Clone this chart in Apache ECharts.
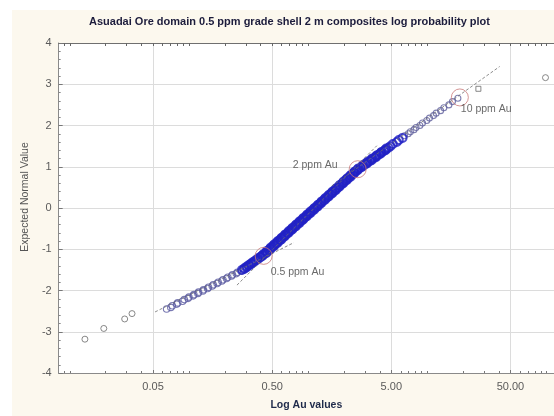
<!DOCTYPE html>
<html><head><meta charset="utf-8">
<script src="https://cdn.jsdelivr.net/npm/echarts@6/dist/echarts.min.js"></script>
<style>
html,body{margin:0;padding:0;background:#fff;width:554px;height:416px;overflow:hidden}
#c{position:absolute;left:12px;top:10px;width:542px;height:406px}
</style>
</head><body><div id="c"></div>
<script>
// ---------- text ----------
const titleText = 'Asuadai Ore domain 0.5 ppm grade shell 2 m composites log probability plot';
const xAxisTitle = 'Log Au values';
const yAxisTitle = 'Expected Normal Value';

// ---------- axes ----------
const xAxisMinAu = 0.00807;
const xAxisMaxAu = 116;
const xTickValues = [0.05, 0.5, 5, 50];
const xTickLabels = ['0.05', '0.50', '5.00', '50.00'];
const xMinorTickValues = [0.008, 0.009,
  0.01, 0.02, 0.03, 0.04, 0.05, 0.06, 0.07, 0.08, 0.09,
  0.1, 0.2, 0.3, 0.4, 0.5, 0.6, 0.7, 0.8, 0.9,
  1, 2, 3, 4, 5, 6, 7, 8, 9,
  10, 20, 30, 40, 50, 60, 70, 80, 90, 100];
const yMin = -4, yMax = 4, yInterval = 1;

// ---------- data: Au (ppm) vs expected normal value ----------
const lowerTailAu = [0.065, 0.0705, 0.0725, 0.079, 0.0805, 0.0885, 0.0915, 0.0985, 0.100, 0.1085,
  0.110, 0.119, 0.1205, 0.131, 0.1325, 0.1435, 0.146, 0.157, 0.160, 0.1725,
  0.176, 0.189, 0.193, 0.207, 0.212, 0.228, 0.232, 0.250, 0.255, 0.274];
const lowerTailZ = [-2.45, -2.41, -2.37, -2.33, -2.30, -2.26, -2.22, -2.19, -2.16, -2.13,
  -2.10, -2.07, -2.04, -2.01, -1.98, -1.95, -1.92, -1.89, -1.86, -1.83,
  -1.80, -1.77, -1.74, -1.71, -1.68, -1.65, -1.62, -1.59, -1.56, -1.53];

const coreAu = [0.279, 0.291, 0.292, 0.304, 0.306, 0.318, 0.319, 0.332, 0.334, 0.347,
  0.349, 0.363, 0.365, 0.379, 0.381, 0.396, 0.399, 0.414, 0.417, 0.440,
  0.448, 0.472, 0.480, 0.506, 0.515, 0.543, 0.552, 0.583, 0.593, 0.625,
  0.636, 0.671, 0.683, 0.719, 0.732, 0.772, 0.786, 0.827, 0.842, 0.888,
  0.905, 0.952, 0.971, 1.022, 1.041, 1.095, 1.118, 1.176, 1.198, 1.26,
  1.286, 1.354, 1.379, 1.454, 1.481, 1.558, 1.587, 1.674, 1.704, 1.793,
  1.830, 1.926, 1.961, 2.063, 2.106, 2.216, 2.257, 2.375, 2.423, 2.550,
  2.603, 2.771, 2.848, 3.031, 3.116, 3.317, 3.408, 3.627, 3.728, 3.959,
  4.078, 4.331, 4.462, 4.739, 4.92, 5.15, 5.56, 5.78, 6.21];
const coreZ = [-1.50, -1.48, -1.46, -1.44, -1.42, -1.40, -1.38, -1.36, -1.34, -1.32,
  -1.30, -1.28, -1.26, -1.24, -1.22, -1.20, -1.18, -1.16, -1.14, -1.10,
  -1.06, -1.02, -0.98, -0.94, -0.90, -0.86, -0.82, -0.78, -0.74, -0.70,
  -0.66, -0.62, -0.58, -0.54, -0.50, -0.46, -0.42, -0.38, -0.34, -0.30,
  -0.26, -0.22, -0.18, -0.14, -0.10, -0.06, -0.02, 0.02, 0.06, 0.10,
  0.14, 0.18, 0.22, 0.26, 0.30, 0.34, 0.38, 0.42, 0.46, 0.50,
  0.54, 0.58, 0.62, 0.66, 0.70, 0.74, 0.78, 0.82, 0.86, 0.90,
  0.94, 0.98, 1.02, 1.06, 1.10, 1.14, 1.18, 1.22, 1.26, 1.30,
  1.34, 1.38, 1.42, 1.46, 1.50, 1.55, 1.60, 1.65, 1.70];

// additional samples packed inside the dense middle of the distribution
const coreFillAu = [0.422, 0.451, 0.452, 0.484, 0.486, 0.519, 0.521, 0.557, 0.559, 0.598,
  0.600, 0.641, 0.644, 0.688, 0.691, 0.738, 0.741, 0.792, 0.795, 0.850,
  0.853, 0.912, 0.915, 0.978, 0.982, 1.050, 1.054, 1.126, 1.131, 1.208,
  1.213, 1.296, 1.302, 1.391, 1.397, 1.492, 1.499, 1.601, 1.608, 1.718,
  1.725, 1.843, 1.851, 1.978, 1.986, 2.122, 2.131, 2.277, 2.287, 2.443,
  2.453, 2.621, 2.650, 2.858, 2.897, 3.125, 3.169, 3.418, 3.465, 3.738,
  3.790, 4.087, 4.145, 4.470, 4.532];
const coreFillZ = [-1.12, -1.08, -1.04, -1.00, -0.96, -0.92, -0.88, -0.84, -0.80, -0.76,
  -0.72, -0.68, -0.64, -0.60, -0.56, -0.52, -0.48, -0.44, -0.40, -0.36,
  -0.32, -0.28, -0.24, -0.20, -0.16, -0.12, -0.08, -0.04, 0.00, 0.04,
  0.08, 0.12, 0.16, 0.20, 0.24, 0.28, 0.32, 0.36, 0.40, 0.44,
  0.48, 0.52, 0.56, 0.60, 0.64, 0.68, 0.72, 0.76, 0.80, 0.84,
  0.88, 0.92, 0.96, 1.00, 1.04, 1.08, 1.12, 1.16, 1.20, 1.24,
  1.28, 1.32, 1.36, 1.40, 1.44];

const upperTailAu = [6.45, 6.93, 7.22, 7.75, 8.06, 8.68, 9.13, 9.92, 10.45, 11.3,
  11.9, 12.95, 13.8, 15.2, 16.3, 18.1];
const upperTailZ = [1.75, 1.80, 1.85, 1.90, 1.95, 2.00, 2.06, 2.12, 2.18, 2.24,
  2.30, 2.36, 2.43, 2.50, 2.58, 2.66];

const outlierAu = [0.0134, 0.0193, 0.0289, 0.0333, 98.4];
const outlierZ = [-3.18, -2.92, -2.69, -2.56, 3.16];
const squareAu = [26.9];
const squareZ = [2.89];

// grade thresholds marked with circles
const gradeMarkerAu = [0.424, 2.61, 18.8];
const gradeMarkerZ = [-1.16, 0.94, 2.68];
const gradeMarkerLabels = ['0.5 ppm Au', '2 ppm Au', '10 ppm Au'];

// dashed trend segments (start, end)
const trendLowAu = [0.052, 0.76];   const trendLowZ = [-2.52, -0.84];
const trendMidAu = [0.253, 3.78];   const trendMidZ = [-1.87, 1.51];
const trendHighAu = [1.58, 40.6];   const trendHighZ = [0.53, 3.43];

// ---------- build ----------
const lg = v => Math.log10(v);
const pts = (au, z) => au.map((a, i) => [lg(a), z[i]]);
const majorPos = xTickValues.map(lg);
const minorPos = xMinorTickValues.map(lg);
const font = 'Liberation Sans, Arial, sans-serif';

const markerLabelLayout = [
  { position: 'right', offset: [-7, 16] },
  { position: 'left', offset: [-6, -4] },
  { position: 'right', offset: [-13, 12] }
];

const scatterStyle = (c, w) => ({ color: 'rgba(0,0,0,0)', borderColor: c, borderWidth: w });
const trendSeries = (au, z) => ({
  type: 'line', data: pts(au, z), showSymbol: false, silent: true,
  lineStyle: { color: '#6e6e6e', width: 0.8, type: [3, 2] }
});

const xBase = { type: 'value', min: lg(xAxisMinAu), max: lg(xAxisMaxAu), gridIndex: 0 };

const option = {
  backgroundColor: '#fcf8ee',
  animation: false,
  title: {
    text: titleText, left: 77, top: 6, padding: 0,
    textStyle: { fontFamily: font, fontSize: 11, fontWeight: 'bold', color: '#1c1c3c' }
  },
  grid: { left: 43, top: 33, right: 0, bottom: 39, show: true, backgroundColor: '#ffffff', borderWidth: 0 },
  xAxis: [
    Object.assign({}, xBase, {
      position: 'bottom',
      axisLine: { show: true, onZero: false, lineStyle: { color: '#8a8a8a', width: 1 } },
      axisTick: { show: true, inside: true, length: 3, customValues: majorPos, lineStyle: { color: '#777' } },
      axisLabel: {
        customValues: majorPos, color: '#5a5a5a', fontSize: 11, fontFamily: font, margin: 8,
        formatter: v => { const i = majorPos.findIndex(p => Math.abs(p - v) < 1e-6); return i >= 0 ? xTickLabels[i] : ''; }
      },
      splitLine: { show: true, lineStyle: { color: '#dcdcdc', width: 1 } },
      name: xAxisTitle, nameLocation: 'middle', nameGap: 27,
      nameTextStyle: { fontFamily: font, fontSize: 10.5, fontWeight: 'bold', color: '#1f2a4a' }
    }),
    Object.assign({}, xBase, {
      position: 'bottom',
      axisLine: { show: false, onZero: false },
      axisTick: { show: true, inside: true, length: 2, customValues: minorPos, lineStyle: { color: '#777' } },
      axisLabel: { show: false }, splitLine: { show: false }
    }),
    Object.assign({}, xBase, {
      position: 'top',
      axisLine: { show: true, onZero: false, lineStyle: { color: '#6f6f6f', width: 1 } },
      axisTick: { show: true, inside: true, length: 3, customValues: minorPos, lineStyle: { color: '#666' } },
      axisLabel: { show: false }, splitLine: { show: false }
    })
  ],
  yAxis: {
    type: 'value', min: yMin, max: yMax, interval: yInterval,
    axisLine: { show: true, onZero: false, lineStyle: { color: '#8a8a8a', width: 1 } },
    axisTick: { show: true, inside: true, length: 4, lineStyle: { color: '#777' } },
    minorTick: { show: true, splitNumber: 5, length: 2, lineStyle: { color: '#888' } },
    axisLabel: { color: '#5a5a5a', fontSize: 11, fontFamily: font, margin: 7 },
    splitLine: { show: true, lineStyle: { color: '#dcdcdc', width: 1 } },
    name: yAxisTitle, nameLocation: 'middle', nameGap: 21,
    nameTextStyle: { fontFamily: font, fontSize: 10.5, color: '#555', padding: [0, 0, 0, 22] }
  },
  series: [
    trendSeries(trendLowAu, trendLowZ),
    trendSeries(trendMidAu, trendMidZ),
    trendSeries(trendHighAu, trendHighZ),
    { type: 'scatter', data: pts(outlierAu, outlierZ), symbol: 'circle', symbolSize: 6, itemStyle: scatterStyle('#6a6a6a', 1) },
    { type: 'scatter', data: pts(squareAu, squareZ), symbol: 'rect', symbolSize: 5, itemStyle: scatterStyle('#6a6a6a', 1) },
    { type: 'scatter', data: pts(lowerTailAu, lowerTailZ), symbol: 'circle', symbolSize: 6.5, itemStyle: scatterStyle('#5a5aa0', 1.1) },
    { type: 'scatter', data: pts(upperTailAu, upperTailZ), symbol: 'circle', symbolSize: 6, itemStyle: scatterStyle('#5f5f9c', 1.1) },
    { type: 'scatter', data: pts(coreAu, coreZ).concat(pts(coreFillAu, coreFillZ)), symbol: 'circle', symbolSize: 8, itemStyle: scatterStyle('#2222c4', 2) },
    {
      type: 'scatter', symbol: 'circle', symbolSize: 17,
      itemStyle: scatterStyle('#c97b7b', 1),
      data: gradeMarkerAu.map((a, i) => ({
        value: [lg(a), gradeMarkerZ[i]],
        label: Object.assign({ show: true, formatter: gradeMarkerLabels[i], fontFamily: font, fontSize: 10.5, color: '#444' }, markerLabelLayout[i])
      }))
    }
  ]
};

const chart = echarts.init(document.getElementById('c'), null, { renderer: 'canvas' });
chart.setOption(option);
</script>
</body></html>
